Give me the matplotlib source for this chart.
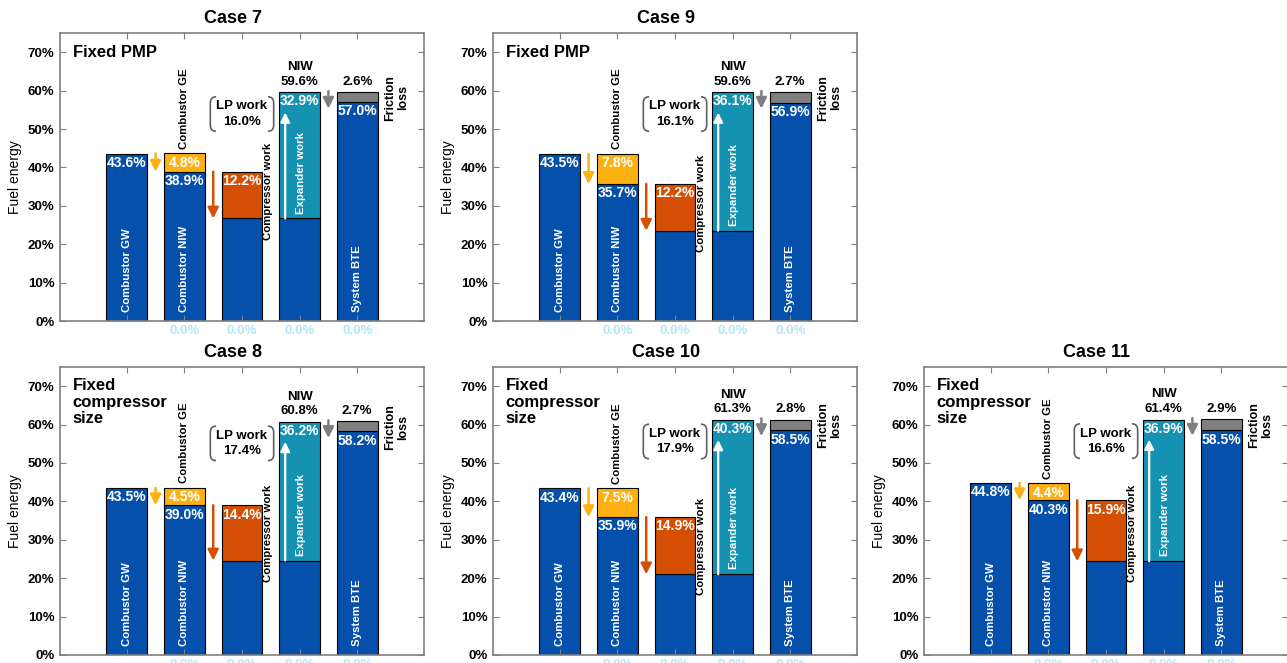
import matplotlib
matplotlib.use('Agg')
from matplotlib import pyplot as plt
from matplotlib.ticker import FuncFormatter
from matplotlib.path import Path
from matplotlib.patches import PathPatch

plt.rcParams['font.family'] = ['Liberation Sans', 'DejaVu Sans']

# 데이터 (패널 순서: Case 7, Case 9, Case 8, Case 10, Case 11)
cases = ['Case 7', 'Case 9', 'Case 8', 'Case 10', 'Case 11']
notes = ['Fixed PMP', 'Fixed PMP', 'Fixed\ncompressor\nsize',
         'Fixed\ncompressor\nsize', 'Fixed\ncompressor\nsize']
gw = [43.6, 43.5, 43.5, 43.4, 44.8]
ge = [4.8, 7.8, 4.5, 7.5, 4.4]
niw_comb = [38.9, 35.7, 39.0, 35.9, 40.3]
comp = [12.2, 12.2, 14.4, 14.9, 15.9]
lp = [16.0, 16.1, 17.4, 17.9, 16.6]
expw = [32.9, 36.1, 36.2, 40.3, 36.9]
niw = [59.6, 59.6, 60.8, 61.3, 61.4]
bte = [57.0, 56.9, 58.2, 58.5, 58.5]
fric = [2.6, 2.7, 2.7, 2.8, 2.9]
tick_labels = ['', '0.0%', '0.0%', '0.0%', '0.0%']

BLUE = '#0550AA'
ORANGE = '#FDB012'
RED = '#D44E04'
TEAL = '#1592B2'
GRAY = '#7F7F7F'

fig = plt.figure(figsize=(12.87, 6.63), dpi=100)

W, H = 364 / 1287, 288 / 663
positions = [(60, 0.5158), (493, 0.5158), (60, 0.0121), (493, 0.0121), (924, 0.0121)]

x = [1, 2, 3, 4, 5]
bw = 0.71


def arrow(ax, x0, y0, y1, color, lw=1.8, ms=16):
    ax.annotate('', xy=(x0, y1), xytext=(x0, y0),
                arrowprops=dict(arrowstyle='-|>', color=color, lw=lw,
                                mutation_scale=ms, shrinkA=0, shrinkB=0))


def bracket(ax, xb, yc, side):
    # 둥근 괄호 모양 (side=1 왼쪽, -1 오른쪽)
    dx, dy, h = 0.1 * side, 1.6, 4.5
    verts = [(xb + dx, yc + h), (xb, yc + h), (xb, yc + h - dy),
             (xb, yc - h + dy), (xb, yc - h), (xb + dx, yc - h)]
    codes = [Path.MOVETO, Path.CURVE3, Path.CURVE3,
             Path.LINETO, Path.CURVE3, Path.CURVE3]
    ax.add_patch(PathPatch(Path(verts, codes), fill=False,
                           edgecolor='#606060', lw=1.2))


for i in range(5):
    left, bottom = positions[i]
    ax = fig.add_axes([left / 1287, bottom, W, H])
    base = niw_comb[i] - comp[i]
    ek = dict(edgecolor='black', linewidth=0.8, width=bw)

    # 막대
    ax.bar(x[0], gw[i], color=BLUE, **ek)
    ax.bar(x[1], niw_comb[i], color=BLUE, **ek)
    ax.bar(x[1], ge[i], bottom=niw_comb[i], color=ORANGE, **ek)
    ax.bar(x[2], base, color=BLUE, **ek)
    ax.bar(x[2], comp[i], bottom=base, color=RED, **ek)
    ax.bar(x[3], base, color=BLUE, **ek)
    ax.bar(x[3], expw[i], bottom=base, color=TEAL, **ek)
    ax.bar(x[4], bte[i], color=BLUE, **ek)
    ax.bar(x[4], fric[i], bottom=bte[i], color=GRAY, **ek)

    # 값 라벨 (흰색)
    wt = dict(color='white', fontsize=10, fontweight='bold', ha='center', va='top')
    ax.text(x[0], gw[i] - 0.6, f'{gw[i]:.1f}%', **wt)
    ax.text(x[1], niw_comb[i] + ge[i] - 0.6, f'{ge[i]:.1f}%', **wt)
    ax.text(x[1], niw_comb[i] - 0.6, f'{niw_comb[i]:.1f}%', **wt)
    ax.text(x[2], niw_comb[i] - 0.6, f'{comp[i]:.1f}%', **wt)
    ax.text(x[3], base + expw[i] - 0.6, f'{expw[i]:.1f}%', **wt)
    ax.text(x[4], bte[i] - 0.6, f'{bte[i]:.1f}%', **wt)

    # 막대 안쪽 세로 라벨
    rt = dict(color='white', fontsize=8.2, fontweight='bold', rotation=90,
              ha='center', va='bottom')
    ax.text(x[0], 2.4, 'Combustor GW', **rt)
    ax.text(x[1], 2.4, 'Combustor NIW', **rt)
    ax.text(x[4], 2.4, 'System BTE', **rt)
    ax.text(x[3] + 0.03, base + 1.3, 'Expander work', **rt)

    # 검은색 세로 라벨
    bt = dict(color='black', fontsize=8.2, fontweight='bold', rotation=90,
              ha='center', va='bottom')
    ax.text(x[1], niw_comb[i] + ge[i] + 1.2, 'Combustor GE', **bt)
    ax.text(x[2] + 0.46, base - 5.5, 'Compressor work', **bt)
    ax.text(x[4] + 0.68, niw[i] - 1.5, 'Friction\nloss', color='black', fontsize=9,
            fontweight='bold', rotation=90, ha='center', va='center',
            multialignment='center', linespacing=1.15)

    # 위쪽 라벨
    ax.text(x[3], niw[i] + 1.2, f'NIW\n{niw[i]:.1f}%', color='black', fontsize=9.5,
            fontweight='bold', ha='center', va='bottom', linespacing=1.25)
    ax.text(x[4], bte[i] + fric[i] + 1.2, f'{fric[i]:.1f}%', color='black',
            fontsize=9.5, fontweight='bold', ha='center', va='bottom')

    # LP work 괄호
    yc = niw[i] - 5.7
    ax.text(3.0, yc, f'LP work\n{lp[i]:.1f}%', color='black', fontsize=9.5,
            fontweight='bold', ha='center', va='center', linespacing=1.35)
    bracket(ax, 2.45, yc, 1)
    bracket(ax, 3.55, yc, -1)

    # 화살표
    arrow(ax, 1.5, gw[i], niw_comb[i], ORANGE)
    arrow(ax, 2.5, niw_comb[i], base, RED)
    arrow(ax, x[3] - 0.25, base, niw[i] - 5.3, 'white', lw=1.6, ms=14)
    arrow(ax, 4.5, niw[i] + 0.3, niw[i] - 4.3, GRAY, lw=1.8, ms=16)

    # 좌상단 설명
    ax.text(0.035, 0.96, notes[i], transform=ax.transAxes, fontsize=12,
            fontweight='bold', ha='left', va='top', linespacing=1.1)

    ax.set_title(cases[i], fontsize=13, fontweight='bold', pad=7, x=0.475)
    ax.set_xlim(-0.16, 6.16)
    ax.set_ylim(0, 75)
    ax.set_yticks(range(0, 71, 10))
    ax.yaxis.set_major_formatter(FuncFormatter(lambda v, p: f'{v:.0f}%'))
    ax.set_xticks(x)
    ax.set_xticklabels(tick_labels, color='#b3e6f7', fontsize=9.5, fontweight='bold')
    ax.tick_params(axis='both', direction='in', top=True, right=True,
                   length=4, color='#7f7f7f')
    ax.tick_params(axis='x', pad=3)
    ax.tick_params(axis='y', labelsize=9.5, pad=4)
    for lab in ax.get_yticklabels():
        lab.set_fontweight('bold')
    ax.set_ylabel('Fuel energy', fontsize=10, labelpad=4)
    for s in ax.spines.values():
        s.set_color('#7f7f7f')
        s.set_linewidth(1.2)

fig.savefig('out.png', dpi=100)
